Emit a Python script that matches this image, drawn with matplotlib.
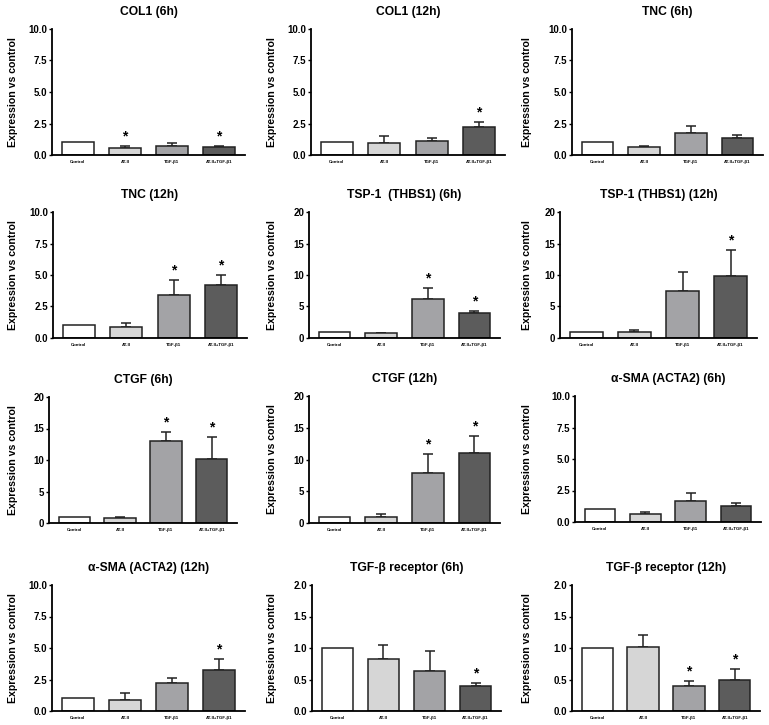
import matplotlib
matplotlib.use("Agg")
import matplotlib.pyplot as plt
from matplotlib.transforms import blended_transform_factory

plt.rcParams['font.family'] = ['Liberation Sans', 'DejaVu Sans']

# groups on the x axis
groups = ["Control", "AT-II", "TGF-β1", "AT-II+TGF-β1"]
bar_colors = ["#ffffff", "#d6d6d6", "#a3a3a6", "#5c5c5c"]

# panel titles, read left-to-right, top-to-bottom
titles = ["COL1 (6h)", "COL1 (12h)", "TNC (6h)",
          "TNC (12h)", "TSP-1  (THBS1) (6h)", "TSP-1 (THBS1) (12h)",
          "CTGF (6h)", "CTGF (12h)", "α-SMA (ACTA2) (6h)",
          "α-SMA (ACTA2) (12h)", "TGF-β receptor (6h)", "TGF-β receptor (12h)"]

# mean expression vs control
means = [[1, 0.55, 0.70, 0.60],
         [1, 0.95, 1.10, 2.22],
         [1, 0.65, 1.75, 1.35],
         [1, 0.90, 3.40, 4.20],
         [1, 0.80, 6.20, 4.00],
         [1, 0.90, 7.40, 9.90],
         [1, 0.80, 13.0, 10.2],
         [1, 1.00, 7.80, 11.1],
         [1, 0.60, 1.70, 1.25],
         [1, 0.90, 2.25, 3.25],
         [1, 0.82, 0.64, 0.39],
         [1, 1.02, 0.40, 0.50]]

# upper error (SEM), control has none
errors = [[0, 0.18, 0.25, 0.15],
          [0, 0.58, 0.22, 0.42],
          [0, 0.08, 0.55, 0.20],
          [0, 0.30, 1.20, 0.80],
          [0, 0.05, 1.70, 0.35],
          [0, 0.35, 3.10, 4.00],
          [0, 0.20, 1.50, 3.50],
          [0, 0.40, 3.00, 2.60],
          [0, 0.20, 0.60, 0.25],
          [0, 0.55, 0.40, 0.85],
          [0, 0.23, 0.32, 0.06],
          [0, 0.19, 0.08, 0.16]]

# which bars carry a significance star
stars = [[0, 1, 0, 1],
         [0, 0, 0, 1],
         [0, 0, 0, 0],
         [0, 0, 1, 1],
         [0, 0, 1, 1],
         [0, 0, 0, 1],
         [0, 0, 1, 1],
         [0, 0, 1, 1],
         [0, 0, 0, 0],
         [0, 0, 0, 1],
         [0, 0, 0, 1],
         [0, 0, 1, 1]]

ymaxes = [10, 10, 10, 10, 20, 20, 20, 20, 10, 10, 2, 2]

W, H = 769, 725
# panel boxes in pixels: left, top, right, bottom
boxes = [(52, 29, 245, 155), (311, 29, 505, 155), (572, 29, 763, 155),
         (53, 212, 247, 338), (309, 212, 500, 338), (560, 212, 757, 338),
         (49, 397, 237, 523), (309, 396, 500, 523), (575, 396, 761, 522),
         (52, 585, 245, 711), (312, 585, 501, 711), (572, 585, 760, 711)]
label_x = [13, 272, 527]

fig = plt.figure(figsize=(W / 100, H / 100), dpi=100)

for k in range(12):
    l, t, r, b = boxes[k]
    ax = fig.add_axes([l / W, 1 - b / H, (r - l) / W, (b - t) / H])
    xs = list(range(len(groups)))
    ax.bar(xs, means[k], width=0.68, color=bar_colors, edgecolor="#222222",
           linewidth=1.1, zorder=2)
    # only draw error bars where there is an error
    ex = [i for i in xs if errors[k][i] > 0]
    ax.errorbar(ex, [means[k][i] for i in ex],
                yerr=[[0] * len(ex), [errors[k][i] for i in ex]], fmt="none",
                ecolor="#222222", elinewidth=1.1, capsize=3.5, capthick=1.1, zorder=1)
    for i in xs:
        if stars[k][i]:
            ax.annotate("*", xy=(i, means[k][i] + errors[k][i]), xytext=(0, 4),
                        textcoords="offset points", ha="center", va="baseline",
                        fontsize=10, fontweight="bold")
    ymax = ymaxes[k]
    ax.set_ylim(0, ymax)
    ax.set_xlim(-0.55, 3.55)
    if ymax == 10:
        ticks = [0, 2.5, 5, 7.5, 10]
        labels = ["0.0", "2.5", "5.0", "7.5", "10.0"]
    elif ymax == 20:
        ticks = [0, 5, 10, 15, 20]
        labels = ["0", "5", "10", "15", "20"]
    else:
        ticks = [0, 0.5, 1, 1.5, 2]
        labels = ["0.0", "0.5", "1.0", "1.5", "2.0"]
    ax.set_yticks(ticks)
    ax.set_yticklabels(labels, fontsize=7, fontweight="bold")
    ax.set_xticks(xs)
    ax.set_xticklabels(groups, fontsize=3.2, fontweight="bold")
    ax.tick_params(axis="x", length=0, pad=3.5)
    ax.tick_params(axis="y", length=2.5, width=1.0, pad=1)
    for s in ["top", "right"]:
        ax.spines[s].set_visible(False)
    for s in ["left", "bottom"]:
        ax.spines[s].set_linewidth(1.3)
    ax.set_title(titles[k], fontsize=8.7, fontweight="bold", pad=10)
    ax.set_ylabel("Expression vs control", fontsize=7.6, fontweight="bold", va="center")
    tr = blended_transform_factory(fig.transFigure, ax.transAxes)
    ax.yaxis.set_label_coords(label_x[k % 3] / W, 0.5, transform=tr)

fig.savefig("out.png", dpi=100)
